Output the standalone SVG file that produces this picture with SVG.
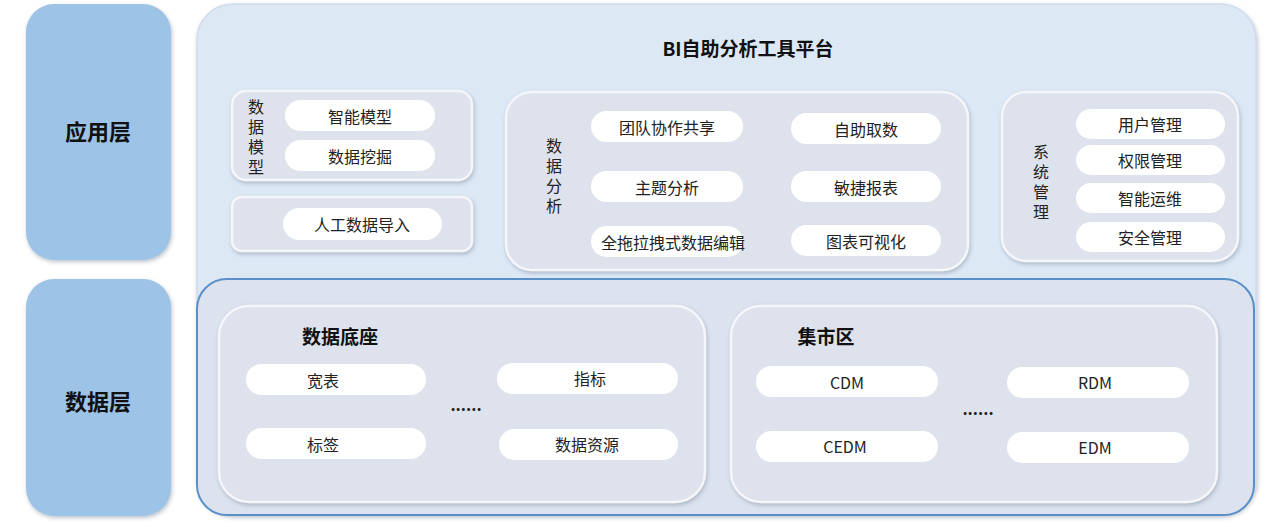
<svg xmlns="http://www.w3.org/2000/svg" width="1268" height="527" viewBox="0 0 1268 527">
<defs>
<filter id="sh" x="-10%" y="-10%" width="120%" height="130%"><feDropShadow dx="1" dy="2" stdDeviation="2" flood-color="#6a7a90" flood-opacity="0.45"/></filter>
</defs>
<style>
text{font-family:"Microsoft YaHei","Noto Sans CJK SC",sans-serif;fill:#222;text-anchor:middle;dominant-baseline:central}
.layer{fill:#9dc3e6;filter:url(#sh)}
.lt{font-size:22px;font-weight:bold;fill:#111}
.grp{fill:#dde2ec;stroke:#f4f6fa;stroke-width:2.5;filter:url(#sh)}
.pill{fill:#fff}
.pt{font-size:16px}
.vt{font-size:16px;writing-mode:vertical-rl;text-anchor:start;letter-spacing:4px}
.bt{font-size:19px;font-weight:bold;fill:#111}
</style>
<rect width="1268" height="527" fill="#fff"/>
<g id="layer-app"><rect class="layer" x="26" y="4" width="145" height="256" rx="28"/><text class="lt" x="98" y="130">应用层</text></g>
<g id="layer-data"><rect class="layer" x="26" y="279" width="145" height="237" rx="28"/><text class="lt" x="98" y="400">数据层</text></g>
<g id="platform"><rect x="197" y="4" width="1059" height="511" rx="36" fill="#dde8f5" stroke="#cfdcec" stroke-width="1.5" filter="url(#sh)"/><text class="bt" x="748" y="47">BI自助分析工具平台</text></g>
<g id="datamodel"><rect class="grp" x="232" y="91" width="240" height="89" rx="14"/>
<text class="vt" x="256" y="99">数据模型</text>
<rect class="pill" x="285" y="100" width="150" height="31" rx="15.5"/><text class="pt" x="360" y="116">智能模型</text>
<rect class="pill" x="285" y="140" width="150" height="31" rx="15.5"/><text class="pt" x="360" y="156">数据挖掘</text></g>
<g id="manual"><rect class="grp" x="232" y="197" width="240" height="54" rx="10"/>
<rect class="pill" x="283" y="208" width="159" height="32" rx="16"/><text class="pt" x="362" y="224">人工数据导入</text></g>
<g id="analysis"><rect class="grp" x="506" y="92" width="462" height="178" rx="26"/>
<text class="vt" x="554" y="138">数据分析</text>
<rect class="pill" x="591" y="111" width="152" height="31" rx="15.5"/><text class="pt" x="667" y="127">团队协作共享</text>
<rect class="pill" x="591" y="171" width="152" height="31" rx="15.5"/><text class="pt" x="667" y="187">主题分析</text>
<rect class="pill" x="591" y="226" width="152" height="31" rx="15.5"/><text class="pt" x="673" y="242">全拖拉拽式数据编辑</text>
<rect class="pill" x="791" y="113" width="150" height="31" rx="15.5"/><text class="pt" x="866" y="129">自助取数</text>
<rect class="pill" x="791" y="171" width="150" height="31" rx="15.5"/><text class="pt" x="866" y="187">敏捷报表</text>
<rect class="pill" x="791" y="225" width="150" height="31" rx="15.5"/><text class="pt" x="866" y="241">图表可视化</text></g>
<g id="sysmgmt"><rect class="grp" x="1002" y="92" width="236" height="169" rx="24"/>
<text class="vt" x="1041" y="144">系统管理</text>
<rect class="pill" x="1076" y="109" width="149" height="30" rx="15"/><text class="pt" x="1150" y="124">用户管理</text>
<rect class="pill" x="1076" y="145" width="149" height="30" rx="15"/><text class="pt" x="1150" y="160">权限管理</text>
<rect class="pill" x="1076" y="183" width="149" height="30" rx="15"/><text class="pt" x="1150" y="198">智能运维</text>
<rect class="pill" x="1076" y="222" width="149" height="30" rx="15"/><text class="pt" x="1150" y="237">安全管理</text></g>
<g id="datalayer"><rect x="197" y="279" width="1057" height="236" rx="30" fill="#dce3ee" stroke="#5b8fc7" stroke-width="2"/></g>
<g id="base"><rect class="grp" x="219" y="306" width="486" height="196" rx="30"/>
<text class="bt" x="340" y="335">数据底座</text>
<rect class="pill" x="246" y="364" width="180" height="31" rx="15.5"/><text class="pt" x="323" y="380">宽表</text>
<rect class="pill" x="497" y="363" width="181" height="31" rx="15.5"/><text class="pt" x="590" y="378">指标</text>
<rect class="pill" x="246" y="428" width="180" height="31" rx="15.5"/><text class="pt" x="323" y="444">标签</text>
<rect class="pill" x="499" y="429" width="179" height="31" rx="15.5"/><text class="pt" x="587" y="444">数据资源</text>
<text x="466" y="404" font-size="16" font-weight="bold">......</text></g>
<g id="mart"><rect class="grp" x="731" y="306" width="486" height="196" rx="30"/>
<text class="bt" x="826" y="335">集市区</text>
<rect class="pill" x="756" y="366" width="182" height="31" rx="15.5"/><text class="pt" x="847" y="382">CDM</text>
<rect class="pill" x="1007" y="367" width="182" height="31" rx="15.5"/><text class="pt" x="1095" y="382">RDM</text>
<rect class="pill" x="756" y="431" width="182" height="31" rx="15.5"/><text class="pt" x="845" y="446">CEDM</text>
<rect class="pill" x="1007" y="432" width="182" height="31" rx="15.5"/><text class="pt" x="1095" y="447">EDM</text>
<text x="978" y="408" font-size="16" font-weight="bold">......</text></g>
<g id="connectors"/>
</svg>
